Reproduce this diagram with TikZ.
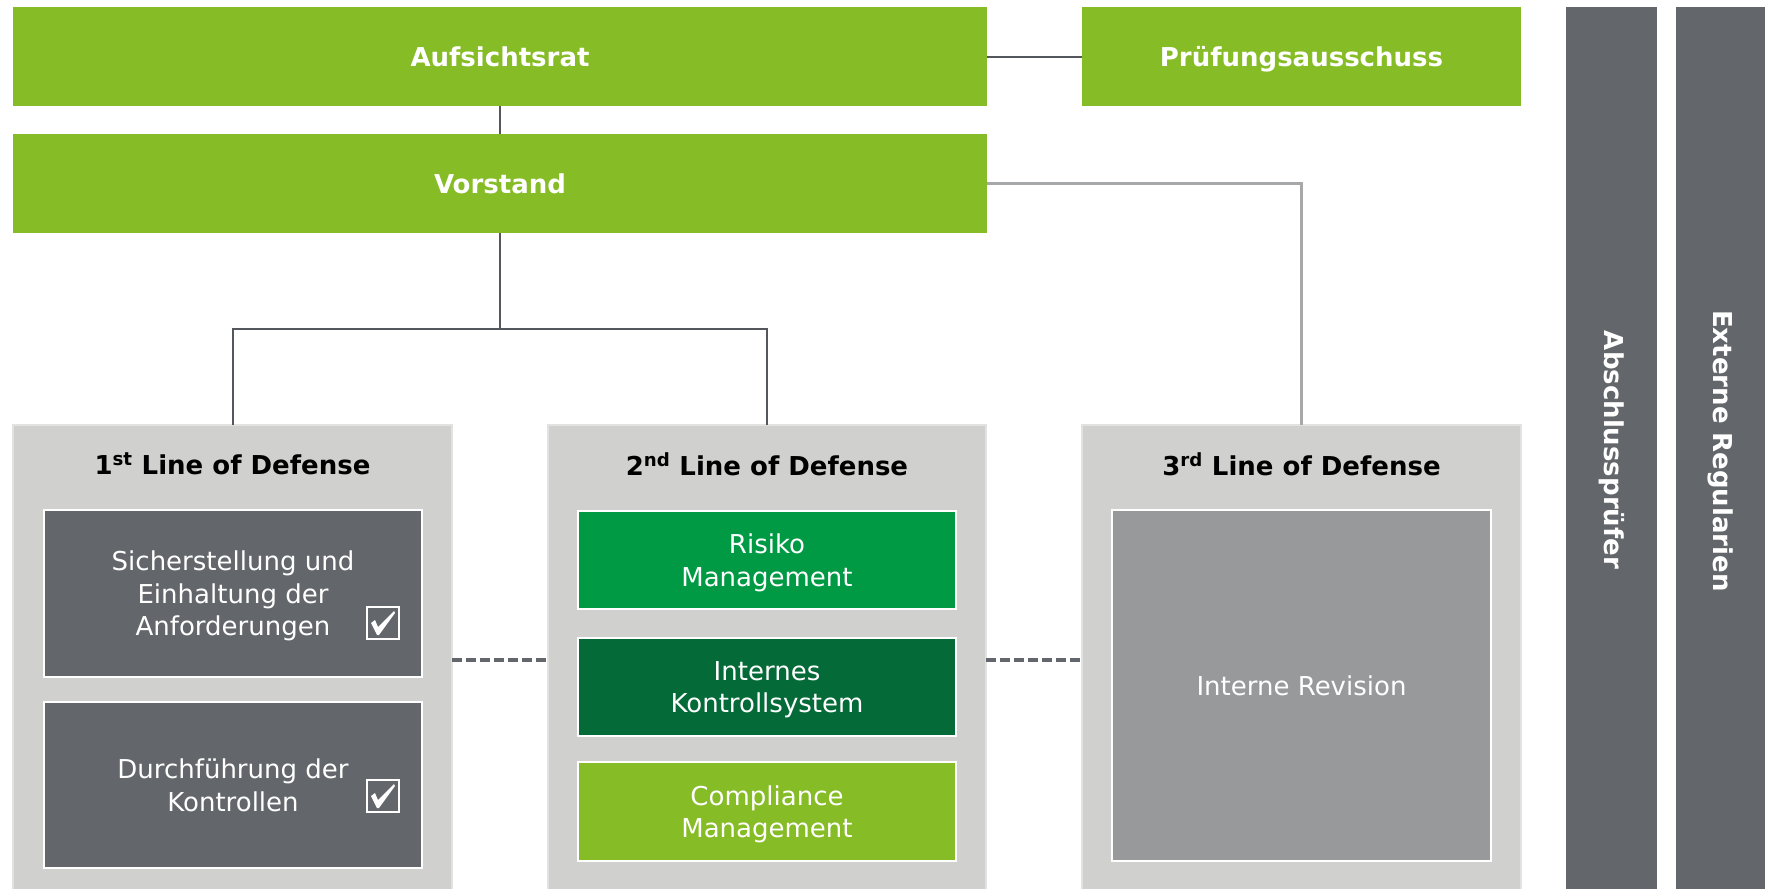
\documentclass[tikz,border=0pt]{standalone}
\usepackage{fontspec}
\setmainfont{DejaVu Sans}
\definecolor{dgreen}{HTML}{86BC25}
\definecolor{mgreen}{HTML}{009A44}
\definecolor{kgreen}{HTML}{046A38}
\definecolor{dgray}{HTML}{63666A}
\definecolor{lgray}{HTML}{D0D0CE}
\definecolor{mgray}{HTML}{97999B}
\definecolor{ldark}{HTML}{53565A}
\definecolor{llight}{HTML}{A7A8AA}
\definecolor{ledge}{HTML}{E2E2E0}
\begin{document}
\begin{tikzpicture}[x=1pt,y=-1pt,
  base/.style={rectangle, inner sep=0pt, outer sep=0pt},
  topbox/.style={base, fill=dgreen, text=white, text height=19, text depth=0, font=\fontsize{26}{31}\selectfont\bfseries},
  lodbox/.style={base, fill=lgray, draw=ledge, line width=1.5pt, minimum height=470, anchor=north},
  lodtitle/.style={base, text=black, font=\fontsize{26}{31}\selectfont\bfseries},
  inbox/.style={base, draw=white, line width=2pt, text=white, align=center, text depth=0, font=\fontsize{26}{32.5}\selectfont},
  chkbox/.style={base, draw=white, line width=1.7pt, minimum size=32},
  tick/.style={fill=white},
  barbox/.style={base, fill=dgray, anchor=north, minimum height=890},
  bartext/.style={base, text=white, rotate=-90, font=\fontsize{26}{31}\selectfont\bfseries},
  cdark/.style={draw=ldark, line width=2pt},
  clight/.style={draw=llight, line width=3pt},
  cdash/.style={draw=dgray, line width=3.5pt, dash pattern=on 10pt off 4pt}]
\clip (0,0) rectangle (1765,889);
\fill[white] (0,0) rectangle (1765,889);

% top level
\node[topbox, minimum width=974, minimum height=99] (auf) at (500,56.5) {Aufsichtsrat};
\node[topbox, minimum width=439, minimum height=99] (pru) at (1301.5,56.5) {Prüfungsausschuss};
\node[topbox, minimum width=974, minimum height=99] (vor) at (500,183.5) {Vorstand};

% lines of defense
\node[lodbox, minimum width=439] (lod1) at (232.5,425) {};
\node[lodbox, minimum width=438] (lod2) at (767,425) {};
\node[lodbox, minimum width=439] (lod3) at (1301.5,425) {};

\node[lodtitle] (t1) at (232.5,464) {1\textsuperscript{st} Line of Defense};
\node[lodtitle] (t2) at (767,464) {2\textsuperscript{nd} Line of Defense};
\node[lodtitle] (t3) at (1301.5,464) {3\textsuperscript{rd} Line of Defense};

% 1st line
\node[inbox, fill=dgray, minimum width=378, minimum height=167] (s1) at (233,593.5) {Sicherstellung und\\Einhaltung der\\Anforderungen};
\node[inbox, fill=dgray, minimum width=378, minimum height=166] (s2) at (233,785) {Durchführung der\\Kontrollen};
\node[chkbox] (c1) at (383,623) {};
\node[chkbox] (c2) at (383,796) {};
\fill[tick, shift={(c1.center)}] (-12,0) -- (-8,-3) -- (-5,4) -- (11,-12) -- (12,-10) -- (-4,12) -- (-6,12) -- cycle;
\fill[tick, shift={(c2.center)}] (-12,0) -- (-8,-3) -- (-5,4) -- (11,-12) -- (12,-10) -- (-4,12) -- (-6,12) -- cycle;

% 2nd line
\node[inbox, fill=mgreen, minimum width=378, minimum height=98] (r1) at (767,560) {Risiko\\Management};
\node[inbox, fill=kgreen, minimum width=378, minimum height=98] (r2) at (767,687) {Internes\\Kontrollsystem};
\node[inbox, fill=dgreen, minimum width=378, minimum height=99] (r3) at (767,811.5) {Compliance\\Management};

% 3rd line
\node[inbox, fill=mgray, minimum width=379, minimum height=351] (ir) at (1301.5,685.5) {Interne Revision};

% side bars
\node[barbox, minimum width=91] (bar1) at (1611.5,7) {};
\node[barbox, minimum width=90] (bar2) at (1720.5,7) {};
\node[bartext] (bt1) at (1611.5,450) {Abschlussprüfer};
\node[bartext] (bt2) at (1720.5,451) {Externe Regularien};

% connectors
\draw[cdark] (auf) -- (pru);
\draw[cdark] (auf) -- (vor);
\coordinate (br) at (500,329);
\draw[cdark] (vor.south) -- (br);
\draw[cdark] (lod1.north) |- (br) -| (lod2.north);
\draw[clight] (vor.east) -| (lod3.north);
\draw[cdash] (lod1) -- (lod2);
\draw[cdash] (lod2) -- (lod3);
\end{tikzpicture}
\end{document}
